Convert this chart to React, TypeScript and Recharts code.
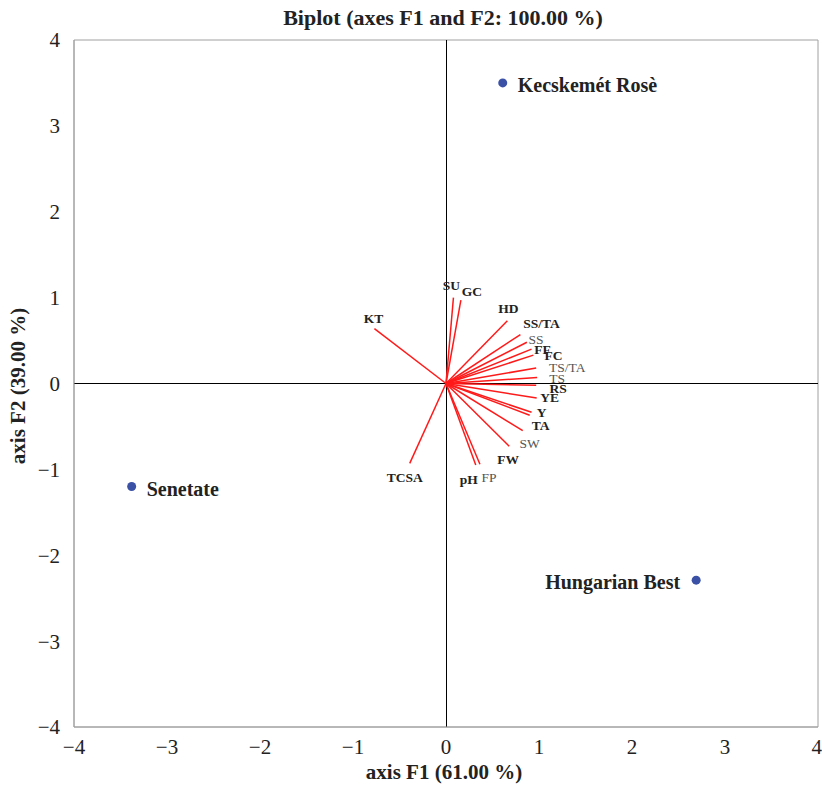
import React from 'react'
import {
  ScatterChart,
  Scatter,
  XAxis,
  YAxis,
  ReferenceLine,
  ReferenceArea,
} from 'recharts'

document.body.style.margin = '0'

// observations (F1, F2)
const obsNames = ['Kecskemét Rosè', 'Senetate', 'Hungarian Best']
const obsF1 = [0.61, -3.38, 2.69]
const obsF2 = [3.5, -1.2, -2.29]

// variables (F1, F2 loadings)
const varNames = ['SU', 'GC', 'HD', 'SS/TA', 'SS', 'FF', 'FC', 'TS/TA', 'TS', 'RS', 'YE', 'Y', 'TA', 'SW', 'FW', 'FP', 'pH', 'KT', 'TCSA']
const varF1 = [0.08, 0.16, 0.66, 0.8, 0.87, 0.92, 0.94, 0.97, 0.98, 0.97, 0.975, 0.92, 0.9, 0.825, 0.68, 0.365, 0.32, -0.77, -0.39]
const varF2 = [1.0, 0.97, 0.73, 0.57, 0.48, 0.4, 0.33, 0.18, 0.07, -0.02, -0.17, -0.335, -0.37, -0.55, -0.73, -0.94, -0.95, 0.64, -0.93]
const boldVars = ['SU', 'GC', 'HD', 'SS/TA', 'FF', 'FC', 'RS', 'YE', 'Y', 'TA', 'FW', 'pH', 'KT', 'TCSA']

const ticks = [-4, -3, -2, -1, 0, 1, 2, 3, 4]

const obsData = obsNames.map((name, i) => ({ name, x: obsF1[i], y: obsF2[i] }))
const varData = varNames.map((name, i) => ({ name, x: varF1[i], y: varF2[i] }))

// label nudges in px (layout only)
const nudge: Record<string, [number, number]> = {
  SU: [-2, -12], GC: [11, -9], HD: [1, -12], 'SS/TA': [21, -11], SS: [9, -3],
  FF: [11, 0], FC: [20, 0], 'TS/TA': [31, -1], TS: [20, 1], RS: [22, 3],
  YE: [13, -1], Y: [10, 0], TA: [11, 10], SW: [7, 13], FW: [-1, 13],
  FP: [9, 13], pH: [-7, 14], KT: [-1, -10], TCSA: [-5, 14],
}

const serif = '"Liberation Serif", "Times New Roman", serif'
const fmt = (v: number) => (v < 0 ? '\u2212' + Math.abs(v) : String(v))

const VarLabel = (props: any) => {
  const { cx, cy, payload } = props
  const [dx, dy] = nudge[payload.name] || [0, 0]
  const bold = boldVars.includes(payload.name)
  return (
    <text
      x={cx + dx}
      y={cy + dy}
      textAnchor="middle"
      dominantBaseline="central"
      fontFamily={serif}
      fontSize={13.5}
      fontWeight={bold ? 'bold' : 'normal'}
      fill={bold ? '#222' : '#555'}
    >
      {payload.name}
    </text>
  )
}

const ObsDot = (props: any) => {
  const { cx, cy, payload } = props
  const left = payload.name === 'Hungarian Best'
  return (
    <g>
      <circle cx={cx} cy={cy} r={4.5} fill="#3a51a6" />
      <text
        x={left ? cx - 16 : cx + 15}
        y={cy + 2}
        textAnchor={left ? 'end' : 'start'}
        dominantBaseline="central"
        fontFamily={serif}
        fontSize={20}
        fontWeight="bold"
        fill="#222"
      >
        {payload.name}
      </text>
    </g>
  )
}

export default function App() {
  return (
    <div style={{ position: 'relative', width: 822, height: 785, fontFamily: serif }}>
      <div style={{ position: 'absolute', top: 5, left: 0, width: 886, textAlign: 'center', fontSize: 22, fontWeight: 'bold', color: '#222' }}>
        Biplot (axes F1 and F2: 100.00 %)
      </div>
      <ScatterChart width={822} height={785} margin={{ top: 40, right: 4, bottom: 0, left: 30 }}>
        <XAxis
          type="number"
          dataKey="x"
          domain={[-4, 4]}
          ticks={ticks}
          tickFormatter={fmt}
          height={58}
          tickLine={false}
          axisLine={{ stroke: '#a0a0a0' }}
          tick={{ fontFamily: serif, fontSize: 21, fill: '#222' }}
          tickMargin={6}
          allowDataOverflow
        />
        <YAxis
          type="number"
          dataKey="y"
          domain={[-4, 4]}
          ticks={ticks}
          tickFormatter={fmt}
          width={44}
          tickLine={false}
          axisLine={{ stroke: '#a0a0a0' }}
          tick={{ fontFamily: serif, fontSize: 21, fill: '#222' }}
          tickMargin={8}
          allowDataOverflow
        />
        <ReferenceArea x1={-4} x2={4} y1={-4} y2={4} fill="none" stroke="#a0a0a0" strokeWidth={1} />
        <ReferenceLine x={0} stroke="#000" strokeWidth={1} shapeRendering="crispEdges" />
        <ReferenceLine y={0} stroke="#000" strokeWidth={1} shapeRendering="crispEdges" />
        {varData.map((v) => (
          <ReferenceLine
            key={v.name}
            segment={[{ x: 0, y: 0 }, { x: v.x, y: v.y }]}
            stroke="#ff1a1a"
            strokeWidth={1.5}
          />
        ))}
        <Scatter data={varData} shape={VarLabel} isAnimationActive={false} />
        <Scatter data={obsData} shape={ObsDot} isAnimationActive={false} />
      </ScatterChart>
      <div style={{ position: 'absolute', top: 760, left: 0, width: 888, textAlign: 'center', fontSize: 21, fontWeight: 'bold', color: '#222' }}>
        axis F1 (61.00 %)
      </div>
      <div
        style={{
          position: 'absolute',
          left: 18,
          top: 386,
          transform: 'translate(-50%, -50%) rotate(-90deg)',
          whiteSpace: 'nowrap',
          fontSize: 21,
          fontWeight: 'bold',
          color: '#222',
        }}
      >
        axis F2 (39.00 %)
      </div>
    </div>
  )
}
